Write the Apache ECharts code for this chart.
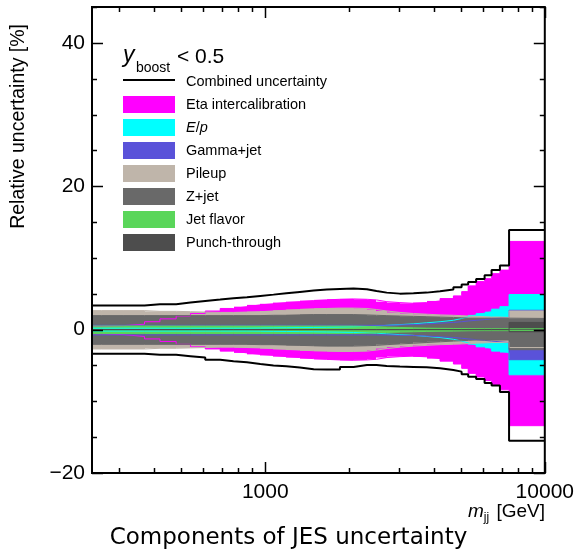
<!DOCTYPE html>
<html>
<head>
<meta charset="utf-8">
<script src="https://cdn.jsdelivr.net/npm/echarts@6/dist/echarts.min.js"></script>
<style>
  html, body { margin: 0; padding: 0; background: #fff; }
  #main { width: 577px; height: 551px; }
</style>
</head>
<body>
<div id="main"></div>
<script>
// bin edges in m_jj [GeV]
const binEdges = [240, 260, 310, 370, 420, 480, 540, 610, 690, 770, 860, 960, 1070, 1190, 1330, 1490, 1660, 1850,
    2070, 2310, 2500, 2720, 3030, 3390, 3780, 4220, 4710, 5040, 5320, 5680, 6090, 6450, 6910, 7450, 10000];

// relative uncertainty [%], up / down (down given as magnitude)
const combinedUp = [3.35, 3.35, 3.35, 3.53, 3.53, 3.77, 4.0, 4.19, 4.37, 4.51, 4.7, 4.88, 5.07, 5.26, 5.44, 5.58, 5.67,
    5.72, 5.63, 5.4, 5.16, 5.02, 5.07, 5.16, 5.35, 5.58, 5.9, 6.28, 6.65, 7.07, 7.58, 8.33, 8.93, 13.9];
const combinedDn = [3.35, 3.35, 3.35, 3.5, 3.5, 3.7, 3.9, 4.2, 4.4, 4.56, 4.8, 5.0, 5.1, 5.3, 5.53, 5.58, 5.58,
    5.2, 4.93, 4.93, 5.07, 5.16, 5.2, 5.26, 5.4, 5.63, 5.86, 6.23, 6.56, 6.88, 7.44, 7.8, 8.7, 15.5];

const etaUp = [0.5, 0.55, 0.75, 1.1, 1.5, 1.9, 2.25, 2.6, 2.95, 3.2, 3.45, 3.6, 3.77, 3.9, 4.05, 4.15, 4.23,
    4.28, 4.23, 4.14, 3.9, 3.77, 3.67, 3.77, 4.0, 4.33, 4.7, 5.3, 6.1, 6.7, 7.1, 7.8, 8.3, 12.3];
const etaDn = [0.6, 0.7, 0.95, 1.3, 1.65, 2.05, 2.4, 2.7, 3.0, 3.25, 3.45, 3.6, 3.77, 3.9, 4.05, 4.15, 4.23,
    4.28, 4.23, 4.14, 3.9, 3.77, 3.7, 3.8, 4.05, 4.4, 4.8, 5.4, 6.1, 6.6, 7.1, 7.7, 8.4, 13.4];

const epUp = [0.2, 0.2, 0.2, 0.2, 0.2, 0.2, 0.2, 0.2, 0.2, 0.2, 0.22, 0.24, 0.26, 0.28, 0.3, 0.33, 0.36,
    0.4, 0.45, 0.5, 0.6, 0.7, 0.8, 0.95, 1.1, 1.3, 1.55, 1.8, 2.05, 2.3, 2.5, 2.85, 3.2, 4.9];
const epDn = [0.2, 0.2, 0.2, 0.2, 0.2, 0.2, 0.2, 0.2, 0.2, 0.2, 0.22, 0.24, 0.26, 0.28, 0.3, 0.33, 0.36,
    0.4, 0.45, 0.5, 0.6, 0.7, 0.8, 0.95, 1.1, 1.35, 1.6, 1.85, 2.1, 2.4, 2.6, 3.0, 3.2, 6.3];

const gammaUp = [0.6, 0.6, 0.6, 0.6, 0.6, 0.6, 0.6, 0.6, 0.6, 0.6, 0.6, 0.6, 0.6, 0.6, 0.6, 0.6, 0.6,
    0.6, 0.6, 0.6, 0.6, 0.65, 0.7, 0.8, 0.9, 1.0, 1.1, 1.2, 1.3, 1.4, 1.5, 1.6, 1.7, 2.7];
const gammaDn = [0.74, 0.74, 0.74, 0.74, 0.74, 0.74, 0.74, 0.74, 0.74, 0.74, 0.74, 0.74, 0.74, 0.74, 0.74, 0.74, 0.74,
    0.74, 0.74, 0.74, 0.74, 0.78, 0.82, 0.9, 1.0, 1.1, 1.2, 1.3, 1.4, 1.5, 1.6, 1.7, 1.8, 4.2];

const pileupUp = [2.65, 2.65, 2.65, 2.55, 2.55, 2.5, 2.45, 2.4, 2.4, 2.45, 2.5, 2.6, 2.7, 2.8, 2.9, 2.95, 3.0,
    3.0, 2.95, 2.8, 2.6, 2.4, 2.25, 2.15, 2.05, 2.0, 1.95, 1.9, 1.85, 1.8, 1.75, 1.75, 1.7, 2.6];
const pileupDn = [2.7, 2.7, 2.7, 2.6, 2.6, 2.55, 2.5, 2.45, 2.45, 2.5, 2.55, 2.65, 2.75, 2.85, 2.95, 3.0, 3.05,
    3.05, 3.0, 2.85, 2.65, 2.45, 2.3, 2.2, 2.1, 2.05, 2.0, 1.95, 1.9, 1.85, 1.8, 1.8, 1.75, 2.5];

const zjetUp = [1.95, 1.95, 1.95, 1.95, 1.95, 1.95, 1.95, 1.95, 1.95, 1.95, 1.95, 2.0, 2.0, 2.05, 2.1, 2.1, 2.1,
    2.1, 2.05, 2.0, 1.95, 1.9, 1.85, 1.8, 1.75, 1.7, 1.65, 1.6, 1.6, 1.6, 1.6, 1.6, 1.6, 1.56];
const zjetDn = [2.05, 2.05, 2.05, 2.05, 2.05, 2.05, 2.05, 2.05, 2.05, 2.05, 2.1, 2.1, 2.15, 2.2, 2.25, 2.3, 2.3,
    2.3, 2.25, 2.2, 2.1, 2.0, 1.9, 1.8, 1.7, 1.6, 1.55, 1.5, 1.45, 1.45, 1.45, 1.45, 1.45, 2.8];

const flavorUp = [0.5, 0.5, 0.5, 0.5, 0.5, 0.5, 0.5, 0.5, 0.5, 0.5, 0.5, 0.5, 0.5, 0.5, 0.5, 0.5, 0.5,
    0.5, 0.45, 0.4, 0.35, 0.3, 0.25, 0.2, 0.18, 0.16, 0.15, 0.14, 0.13, 0.12, 0.12, 0.12, 0.12, 0.12];
const flavorDn = [0.55, 0.55, 0.55, 0.55, 0.55, 0.55, 0.55, 0.55, 0.55, 0.55, 0.55, 0.55, 0.55, 0.55, 0.55, 0.55, 0.55,
    0.55, 0.5, 0.45, 0.4, 0.35, 0.3, 0.25, 0.22, 0.2, 0.18, 0.16, 0.15, 0.14, 0.14, 0.14, 0.14, 0.14];

const punchUp = [0, 0, 0, 0, 0, 0, 0, 0, 0, 0, 0, 0, 0, 0, 0, 0, 0,
    0, 0, 0, 0, 0, 0, 0, 0, 0, 0, 0, 0, 0, 0, 0, 0, 1.0];
const punchDn = [0, 0, 0, 0, 0, 0, 0, 0, 0, 0, 0, 0, 0, 0, 0, 0, 0,
    0, 0, 0, 0, 0, 0, 0, 0, 0, 0, 0, 0, 0, 0, 0, 0, 0.3];

// axis ticks
const xMajorTicks = [1000, 10000];
const xMinorTicks = [300, 400, 500, 600, 700, 800, 900, 2000, 3000, 4000, 5000, 6000, 7000, 8000, 9000];
const yMajorTicks = [-20, 0, 20, 40];
const yMinorTicks = [-15, -10, -5, 5, 10, 15, 25, 30, 35, 45];

const components = [
    {name: 'Eta intercalibration', up: etaUp, dn: etaDn, color: '#ff00ff'},
    {name: 'E/p', up: epUp, dn: epDn, color: '#00ffff'},
    {name: 'Gamma+jet', up: gammaUp, dn: gammaDn, color: '#5a52d9'},
    {name: 'Pileup', up: pileupUp, dn: pileupDn, color: '#bfb5aa'},
    {name: 'Z+jet', up: zjetUp, dn: zjetDn, color: '#696969'},
    {name: 'Jet flavor', up: flavorUp, dn: flavorDn, color: '#5ad65a'},
    {name: 'Punch-through', up: punchUp, dn: punchDn, color: '#4d4d4d'}
];

const X_MIN = 240, X_MAX = 10000, Y_MIN = -20, Y_MAX = 45;
const FONT = '"Liberation Sans", Arial, sans-serif';

function stepData(vals, sign) {
    let d = vals.map((v, i) => [binEdges[i], sign * v]);
    d.push([binEdges[binEdges.length - 1], sign * vals[vals.length - 1]]);
    return d;
}

let series = [];

// filled bands
components.forEach(function (c, k) {
    series.push({
        name: c.name,
        type: 'custom',
        z: 2 + k * 0.01,
        itemStyle: {color: c.color},
        encode: {x: [0, 1], y: [2, 3]},
        data: c.up.map((v, i) => [binEdges[i], binEdges[i + 1], -c.dn[i], v]),
        renderItem: function (params, api) {
            let p0 = api.coord([api.value(0), api.value(3)]);
            let p1 = api.coord([api.value(1), api.value(2)]);
            let x0 = Math.round(p0[0]), x1 = Math.round(p1[0]);
            return {
                type: 'rect',
                shape: {x: x0, y: p0[1], width: x1 - x0, height: p1[1] - p0[1]},
                style: {fill: c.color}
            };
        }
    });
});

// band outlines, drawn above all fills
components.forEach(function (c, k) {
    [1, -1].forEach(function (s) {
        series.push({
            name: c.name + (s > 0 ? ' up' : ' down'),
            type: 'line',
            step: 'end',
            z: 3 + k * 0.01,
            symbol: 'none',
            silent: true,
            lineStyle: {color: c.color, width: 1},
            data: stepData(s > 0 ? c.up : c.dn, s)
        });
    });
});

// combined uncertainty
[1, -1].forEach(function (s) {
    series.push({
        name: s > 0 ? 'Combined uncertainty' : 'Combined down',
        type: 'line',
        step: 'end',
        z: 4,
        symbol: 'none',
        color: '#000',
        lineStyle: {color: '#000', width: 2},
        data: stepData(s > 0 ? combinedUp : combinedDn, s)
    });
});

// ticks on all four sides, pointing inwards
function tickSeries(vals, isX, len) {
    return {
        type: 'custom',
        z: 6,
        silent: true,
        data: vals.map(v => isX ? [v, 0] : [X_MIN, v]),
        renderItem: function (params, api) {
            let cs = params.coordSys;
            let p = api.coord([api.value(0), api.value(1)]);
            let st = {stroke: '#000', lineWidth: 1.5};
            if (isX) {
                let x = Math.round(p[0]) + 0.5;
                return {type: 'group', children: [
                    {type: 'line', shape: {x1: x, y1: cs.y + cs.height, x2: x, y2: cs.y + cs.height - len}, style: st},
                    {type: 'line', shape: {x1: x, y1: cs.y, x2: x, y2: cs.y + len}, style: st}
                ]};
            }
            let y = Math.round(p[1]) + 0.5;
            return {type: 'group', children: [
                {type: 'line', shape: {x1: cs.x, y1: y, x2: cs.x + len, y2: y}, style: st},
                {type: 'line', shape: {x1: cs.x + cs.width, y1: y, x2: cs.x + cs.width - len, y2: y}, style: st}
            ]};
        }
    };
}
series.push(tickSeries(xMajorTicks, true, 11));
series.push(tickSeries(xMinorTicks, true, 5));
series.push(tickSeries(yMajorTicks, false, 11));
series.push(tickSeries(yMinorTicks, false, 5));

let legendData = [{
    name: 'Combined uncertainty',
    icon: 'path://M0,0 M0,6 L52,6 L52,8 L0,8 Z M0,17',
    itemStyle: {color: '#000', borderWidth: 0}
}].concat(components.map(c => ({name: c.name, icon: 'rect'})));

let myChart = echarts.init(document.getElementById('main'), null, {renderer: 'canvas'});
let option = {
    backgroundColor: '#fff',
    animation: false,
    grid: {
        left: 92, right: 32, top: 7, bottom: 78,
        show: true, borderColor: '#000', borderWidth: 2, backgroundColor: 'transparent', z: 7
    },
    xAxis: {
        type: 'log',
        logBase: 10,
        min: X_MIN,
        max: X_MAX,
        axisLine: {show: false},
        axisTick: {show: false},
        splitLine: {show: false},
        axisLabel: {
            fontFamily: FONT, fontSize: 21, color: '#000', margin: 9,
            formatter: function (v) {
                return xMajorTicks.some(t => Math.abs(t - v) < 1e-6 * t) ? String(Math.round(v)) : '';
            }
        }
    },
    yAxis: {
        type: 'value',
        min: Y_MIN,
        max: Y_MAX,
        interval: 20,
        axisLine: {show: false},
        axisTick: {show: false},
        splitLine: {show: false},
        axisLabel: {
            fontFamily: FONT, fontSize: 21, color: '#000', margin: 7,
            showMaxLabel: false,
            formatter: function (v) {
                return yMajorTicks.indexOf(v) >= 0 ? String(v).replace('-', '\u2212') : '';
            }
        }
    },
    legend: {
        orient: 'vertical',
        left: 123,
        top: 73,
        padding: 0,
        itemWidth: 52,
        itemHeight: 17,
        itemGap: 6,
        symbolKeepAspect: false,
        selectedMode: false,
        data: legendData,
        textStyle: {
            fontFamily: FONT, fontSize: 14.5, lineHeight: 17, color: '#000', padding: [0, 0, 0, 6],
            rich: {i: {fontFamily: FONT, fontSize: 14.5, lineHeight: 17, fontStyle: 'italic', color: '#000'}}
        },
        formatter: function (name) {
            return name === 'E/p' ? '{i|E}/{i|p}' : name;
        }
    },
    graphic: [
        {type: 'text', left: 123, top: 44, style: {text: 'y', font: 'italic 23px ' + FONT, fill: '#000'}},
        {type: 'text', left: 136, top: 61, style: {text: 'boost', font: '14px ' + FONT, fill: '#000'}},
        {type: 'text', left: 177, top: 47, style: {text: '< 0.5', font: '21px ' + FONT, fill: '#000'}},
        {type: 'text', x: 9, y: 24, rotation: Math.PI / 2,
            style: {text: 'Relative uncertainty [%]', font: '19.5px ' + FONT, fill: '#000', align: 'right', verticalAlign: 'top'}},
        {type: 'text', right: 32, top: 502,
            style: {
                text: '{m|m}{s|jj} [GeV]', fill: '#000', font: '19px ' + FONT,
                rich: {
                    m: {font: 'italic 19px ' + FONT, fill: '#000'},
                    s: {font: '12px ' + FONT, fill: '#000', padding: [12, 2, 0, 0]}
                }
            }},
        {type: 'text', left: 'center', top: 527,
            style: {text: 'Components of JES uncertainty', font: '23px "DejaVu Sans", sans-serif', fill: '#000'}}
    ],
    series: series
};
myChart.setOption(option);
</script>
</body>
</html>
